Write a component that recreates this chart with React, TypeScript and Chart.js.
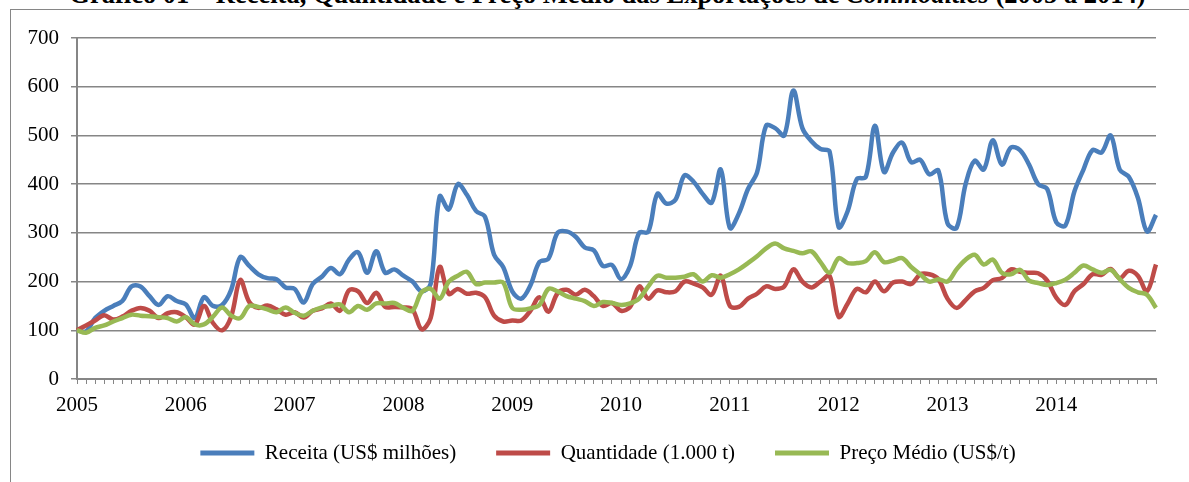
import React, { useEffect, useRef } from "react";
import { Chart, registerables } from "chart.js";

Chart.register(...registerables);

const years = ["2005", "2006", "2007", "2008", "2009", "2010", "2011", "2012", "2013", "2014"];

const seriesNames = ["Receita (US$ milhões)", "Quantidade (1.000 t)", "Preço Médio (US$/t)"];

const receita = [
  100, 98, 125, 140, 150, 160, 190, 190, 170, 152,
  170, 160, 153, 125, 168, 150, 152, 183, 250, 232,
  215, 207, 205, 188, 185, 157, 195, 210, 228, 215,
  245, 260, 218, 262, 218, 225, 212, 200, 180, 195,
  375, 348, 400, 378, 345, 333, 255, 230, 180, 165,
  192, 240, 247, 300, 303, 292, 270, 264, 232, 234,
  205, 232, 300, 302, 380, 360, 368, 418, 405, 380,
  362, 430, 310, 340, 390, 424, 520, 515, 500, 592,
  515, 488, 472, 467, 312, 345, 410, 415, 520, 425,
  465, 485, 445, 450, 420, 428, 320, 310, 400, 448,
  430, 490, 440, 475, 470, 440, 400, 390, 322, 315,
  385, 430, 470, 465, 500, 430, 415, 372, 303, 337,
];

const quantidade = [
  100, 110, 120, 131, 122, 128, 140, 146, 140, 125,
  135, 137, 127, 112, 150, 115, 100, 128, 203, 158,
  146, 151, 143, 132, 137, 126, 140, 145, 155, 140,
  182, 180, 156, 177, 148, 148, 147, 143, 102, 125,
  230, 175, 185, 175, 177, 168, 130, 118, 120, 120,
  140, 168, 138, 176, 183, 173, 183, 170, 150, 156,
  140, 148, 190, 165, 182, 178, 180, 200, 196, 188,
  173, 212, 150, 148, 165, 175, 190, 185, 190, 225,
  200, 188, 200, 212, 128, 155, 185, 178, 200, 180,
  198, 200, 195, 215, 215, 205, 165, 146, 162, 180,
  187, 203, 207, 225, 220, 218, 217, 202, 167, 152,
  180, 195, 215, 214, 226, 207, 222, 212, 180, 235,
];

const precoMedio = [
  100, 95, 105, 110, 118, 125, 132, 130, 129, 127,
  125, 118, 127, 112, 112, 128, 147, 130, 125, 150,
  148, 143, 137, 147, 136, 130, 140, 147, 150, 153,
  137, 150, 142, 155, 155, 156, 146, 140, 178, 185,
  165, 200, 212, 220, 195, 198, 198, 198, 146, 142,
  145, 152, 185, 180, 170, 165, 160, 150, 158, 156,
  152, 155, 165, 190, 212, 208, 208, 210, 215, 200,
  213, 208, 215, 225, 238, 252, 268, 278, 268, 263,
  258, 262, 240, 218, 248, 238, 238, 242, 260, 240,
  243, 248, 230, 215, 200, 205, 200, 225, 245, 255,
  235, 245, 218, 215, 224, 202, 197, 193, 197, 204,
  218, 233, 225, 218, 224, 205, 187, 178, 173, 146,
];

const colors = ["#4A7EBB", "#BE4B48", "#98B954"];
const yTicks = [0, 100, 200, 300, 400, 500, 600, 700];

const FONT = "'Liberation Serif', 'Times New Roman', serif";
const AXIS_GRAY = "#868686";

const shiftLegend = {
  id: "shiftLegend",
  afterLayout(chart: any) {
    const l = chart.legend;
    if (l) {
      l.left += 30;
      l.right += 30;
      l.top -= 21.5;
      l.height = 78;
      l.bottom = l.top + 78;
    }
  },
};

export default function App() {
  const canvasRef = useRef<HTMLCanvasElement | null>(null);

  useEffect(() => {
    const canvas = canvasRef.current;
    if (!canvas) return;
    const categories: string[] = [];
    years.forEach((y) => {
      for (let m = 1; m <= 12; m++) categories.push(`${y}-${m}`);
    });
    const series = [receita, quantidade, precoMedio];

    const chart = new Chart(canvas, {
      type: "line",
      data: {
        labels: categories,
        datasets: series.map((d, i) => ({
          label: seriesNames[i],
          data: d,
          borderColor: colors[i],
          backgroundColor: colors[i],
          borderWidth: 4.5,
          pointRadius: 0,
          tension: 0.35,
          fill: false,
          order: 2 - i,
        })),
      },
      options: {
        animation: false,
        responsive: false,
        maintainAspectRatio: false,
        layout: { padding: { left: 0, right: 33, top: 38, bottom: 13 } },
        scales: {
          x: {
            type: "category",
            offset: false,
            grid: {
              drawOnChartArea: false,
              drawTicks: true,
              tickLength: 5,
              color: AXIS_GRAY,
              lineWidth: 1,
            },
            border: { color: AXIS_GRAY, width: 2 },
            ticks: {
              autoSkip: false,
              maxRotation: 0,
              minRotation: 0,
              color: "#000",
              padding: 9,
              font: { family: FONT, size: 21 },
              callback: (_v: any, i: number) => (i % 12 === 0 ? years[i / 12] : ""),
            },
            afterFit: (s: any) => {
              s.height = 45;
            },
          },
          y: {
            min: 0,
            max: 700,
            afterBuildTicks: (s: any) => {
              s.ticks = yTicks.map((v) => ({ value: v }));
            },
            ticks: {
              color: "#000",
              padding: 12,
              font: { family: FONT, size: 21 },
            },
            grid: { color: AXIS_GRAY, lineWidth: 1.5, tickLength: 6 },
            border: { color: AXIS_GRAY, width: 2 },
            afterFit: (s: any) => {
              s.width = 77;
            },
          },
        },
        plugins: {
          tooltip: { enabled: false },
          legend: {
            position: "bottom",
            maxHeight: 45,
            labels: {
              color: "#000",
              font: { family: FONT, size: 21 },
              boxWidth: 54,
              boxHeight: 5,
              padding: 40,
              generateLabels: () =>
                seriesNames.map((t, i) => ({
                  text: t,
                  fillStyle: colors[i],
                  strokeStyle: colors[i],
                  lineWidth: 0,
                  hidden: false,
                  datasetIndex: i,
                })),
            },
          },
        },
      },
      plugins: [shiftLegend],
    });
    return () => chart.destroy();
  }, []);

  return (
    <div style={{ position: "absolute", left: 0, top: 0, width: 1189, height: 482, overflow: "hidden", background: "#fff" }}>
      <div
        style={{
          position: "absolute",
          left: 10,
          top: 9,
          width: 1300,
          height: 600,
          border: `1px solid ${AXIS_GRAY}`,
          boxSizing: "border-box",
        }}
      />
      <div
        style={{
          position: "absolute",
          left: 0,
          top: -19,
          width: 1215,
          textAlign: "center",
          fontFamily: FONT,
          fontWeight: "bold",
          fontSize: 26.5,
          lineHeight: "26.5px",
          whiteSpace: "nowrap",
          color: "#000",
        }}
      >
        Gráfico 01 – Receita, Quantidade e Preço Médio das Exportações de <i>Commodities</i> (2005 a 2014)
      </div>
      <canvas ref={canvasRef} width={1189} height={482} style={{ position: "absolute", left: 0, top: 0 }} />
    </div>
  );
}
